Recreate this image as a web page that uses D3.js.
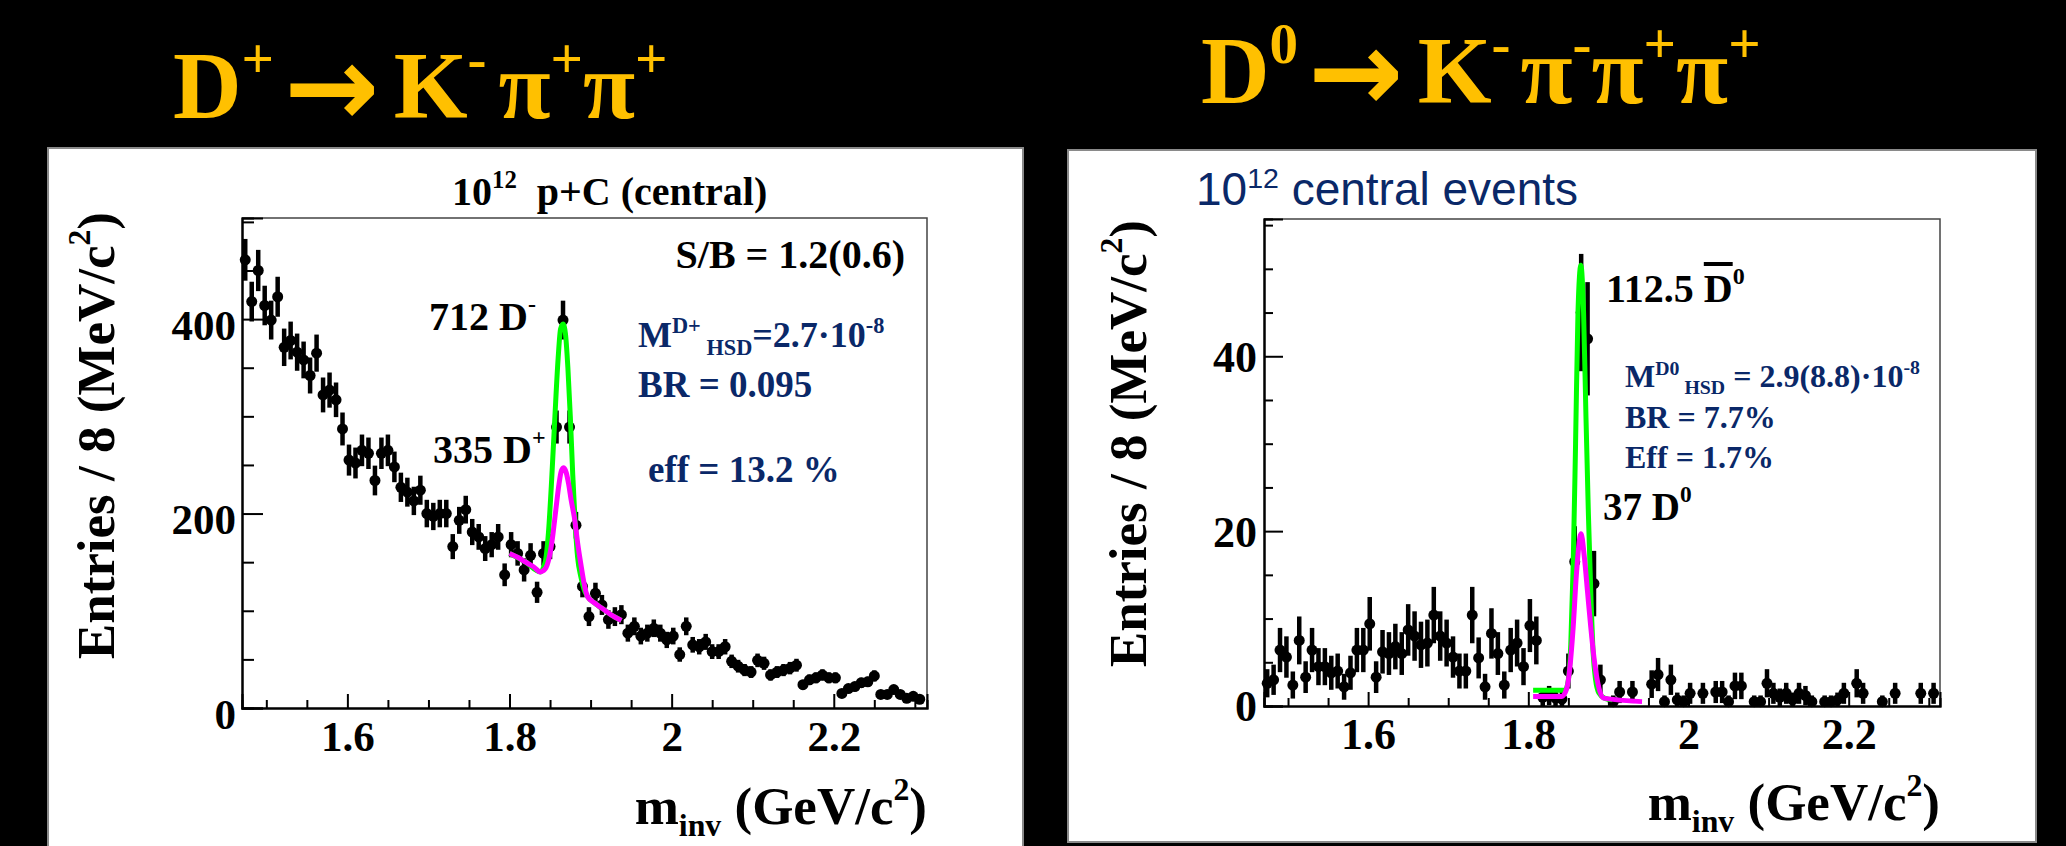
<!DOCTYPE html>
<html>
<head>
<meta charset="utf-8">
<script src="https://cdn.jsdelivr.net/npm/d3@7"></script>
<style>
  body { margin: 0; background: #000; }
  svg { display: block; }
</style>
</head>
<body>
<svg id="chart" width="2066" height="846"></svg>
<script>
// ---- data ----
const binLow = 1.47;      // GeV/c^2, first bin edge
const binWidth = 0.008;   // 8 MeV bins

// D+ -> K- pi+ pi+ : entries per bin
const dplusCounts = [
  461, 418, 450, 414, 399, 423, 371, 378, 366, 358,
  342, 365, 322, 327, 317, 287, 255, 252, 265, 262,
  234, 262, 265, 248, 227, 222, 213, 224, 200, 197,
  200, 200, 166, 193, 204, 181, 176, 164, 168, 176,
  137, 168, 159, 142, 157, 119, 159, 166, 289, 399,
  289, 188, 125, 94, 118, 106, 91, 94, 96, 77,
  84, 74, 77, 82, 77, 70, 74, 55, 84, 65,
  63, 68, 58, 58, 63, 48, 43, 39, 37, 49,
  46, 34, 37, 39, 41, 44, 24, 29, 31, 34,
  31, 31, 15, 20, 22, 26, 27, 33, 14, 14,
  19, 14, 10, 12, 9
];

// D0 -> K- pi- pi+ pi+ : entries per bin
const d0Counts = [
  2.6, 3.0, 6.4, 5.6, 2.4, 7.5, 3.3, 6.4, 4.5, 4.5,
  3.8, 4.0, 2.2, 3.8, 6.4, 6.4, 9.4, 3.3, 6.2, 6.0,
  6.8, 6.0, 8.7, 8.0, 7.0, 7.2, 10.4, 8.0, 7.2, 5.6,
  4.0, 4.0, 10.4, 5.5, 2.2, 8.3, 6.0, 2.4, 6.4, 7.2,
  4.5, 9.2, 7.5, 1.0, 1.2, 0.9, 0.8, 4.0, 16.5, 45,
  42, 14, 3.0, 0, 0.5, 1.6, 0, 1.6, 0, 0,
  2.5, 3.6, 0.5, 3.0, 0.7, 0.5, 1.45, 0, 1.45, 0,
  1.6, 1.6, 0.5, 2.3, 2.3, 0, 0.5, 0.5, 2.6, 1.45,
  1.0, 1.45, 0.7, 1.45, 1.2, 0.5, 0, 0.5, 0.5, 0.7,
  1.45, 0, 2.6, 1.45, 0, 0, 0.5, 0, 1.45, 0,
  0, 0, 1.45, 0, 1.45
];

// fitted curves (mass, entries)
const dplusGreenMass = [1.800, 1.820, 1.838, 1.844, 1.848, 1.852, 1.856, 1.860, 1.863, 1.866, 1.869, 1.872, 1.875, 1.878, 1.881, 1.884, 1.888, 1.892, 1.896, 1.905, 1.915, 1.925, 1.938];
const dplusGreenVal  = [159, 150, 140, 150, 180, 235, 300, 360, 390, 395, 385, 350, 300, 240, 190, 155, 135, 122, 115, 108, 102, 96, 90];
const dplusMagentaMass = [1.800, 1.810, 1.820, 1.830, 1.838, 1.844, 1.849, 1.853, 1.857, 1.861, 1.864, 1.867, 1.870, 1.873, 1.876, 1.880, 1.884, 1.888, 1.892, 1.896, 1.905, 1.915, 1.925, 1.938];
const dplusMagentaVal  = [159, 155, 150, 145, 140, 143, 155, 175, 203, 230, 244, 247, 242, 230, 214, 196, 170, 148, 128, 115, 108, 102, 96, 90];

const d0GreenMass = [1.806, 1.846, 1.850, 1.853, 1.856, 1.859, 1.862, 1.8656, 1.869, 1.872, 1.875, 1.878, 1.881, 1.884, 1.888, 1.895, 1.905];
const d0GreenVal  = [1.8, 1.8, 3, 7, 16, 30, 45, 50.4, 45, 33, 22, 13, 6, 3, 1.5, 0.9, 0.7];
const d0MagentaMass = [1.806, 1.842, 1.848, 1.852, 1.856, 1.860, 1.8659, 1.870, 1.874, 1.878, 1.882, 1.886, 1.894, 1.942];
const d0MagentaVal  = [1.1, 1.1, 2.0, 4.5, 9, 15, 19.7, 17, 13, 9, 5.5, 3, 0.9, 0.5];

// axes
const massRange = [1.47, 2.315];
const massTicks = [1.6, 1.8, 2.0, 2.2];
const massMinor = [1.5, 1.55, 1.65, 1.7, 1.75, 1.85, 1.9, 1.95, 2.05, 2.1, 2.15, 2.25, 2.3];
const dplusYTicks = [0, 200, 400];
const dplusYMinor = [50, 100, 150, 250, 300, 350, 450, 500];
const d0YTicks = [0, 20, 40];
const d0YMinor = [5, 10, 15, 25, 30, 35, 45, 50, 55];

// ---- drawing ----
const SERIF = "'Liberation Serif', 'Times New Roman', serif";
const SANS = "'Liberation Sans', Arial, sans-serif";
const GOLD = "#ffc000";
const NAVY = "#0a2868";

const svg = d3.select("#chart");
svg.append("rect").attr("width", 2066).attr("height", 846).attr("fill", "#000");

// text with super/subscripts; s = vertical shift in em (negative = up), k = size factor
function rich(g, x, y, size, parts, opts = {}) {
  const t = g.append("text")
    .attr("x", x).attr("y", y)
    .attr("font-family", opts.family || SERIF)
    .attr("font-weight", opts.weight || "bold")
    .attr("font-size", size)
    .attr("fill", opts.fill || "#000")
    .attr("text-anchor", opts.anchor || "start")
    .style("white-space", "pre");
  if (opts.transform) t.attr("transform", opts.transform);
  let shift = 0;
  parts.forEach(p => {
    const ts = t.append("tspan").text(p.t);
    if (p.k) ts.attr("font-size", size * p.k);
    if (p.f) ts.attr("font-family", p.f);
    if (p.dx) ts.attr("dx", p.dx);
    const target = (p.s || 0) * size;
    if (target !== shift) ts.attr("dy", target - shift);
    shift = target;
    if (p.o) ts.style("text-decoration", "overline");
  });
  return t;
}

function styleAxis(ax, size, dy) {
  ax.select(".domain").attr("stroke", "#000").attr("stroke-width", 2);
  ax.selectAll(".tick line").attr("stroke", "#000").attr("stroke-width", 2);
  ax.selectAll(".tick text")
    .attr("font-family", SERIF).attr("font-weight", "bold")
    .attr("font-size", size).attr("fill", "#000");
  if (dy) ax.selectAll(".tick text").attr("dy", dy);
}

function drawPanel(p) {
  const g = svg.append("g");
  g.append("rect")
    .attr("x", p.box[0]).attr("y", p.box[1])
    .attr("width", p.box[2]).attr("height", p.box[3])
    .attr("fill", "#fff").attr("stroke", "#8a8a8a").attr("stroke-width", 2);

  const f = p.frame;
  const x = d3.scaleLinear().domain(p.xDomain).range([f.left, f.right]);
  const y = d3.scaleLinear().domain([0, p.yMax]).range([f.bottom, f.top]);

  // frame top / right
  g.append("path")
    .attr("d", `M${f.left},${f.top}H${f.right}V${f.bottom}`)
    .attr("fill", "none").attr("stroke", "#444").attr("stroke-width", 1.5);

  // y axis: minor then major
  const yMin = g.append("g").attr("transform", `translate(${f.left},0)`)
    .call(d3.axisLeft(y).tickValues(p.yMinor).tickSize(-p.yMinorLen).tickFormat(""));
  styleAxis(yMin, p.tickFont);
  const yMaj = g.append("g").attr("transform", `translate(${f.left},0)`)
    .call(d3.axisLeft(y).tickValues(p.yTicks).tickSize(-p.yMajorLen).tickPadding(p.yPad).tickFormat(d3.format("d")));
  styleAxis(yMaj, p.tickFont, p.yLabelDy);

  // x axis
  const xMin = g.append("g").attr("transform", `translate(0,${f.bottom})`)
    .call(d3.axisBottom(x).tickValues(massMinor).tickSize(-8).tickFormat(""));
  styleAxis(xMin, p.tickFont);
  const xMaj = g.append("g").attr("transform", `translate(0,${f.bottom})`)
    .call(d3.axisBottom(x).tickValues(massTicks).tickSize(-14).tickPadding(12).tickFormat(d => String(+d.toFixed(1))));
  styleAxis(xMaj, p.tickFont);

  // data points with error bars
  const pts = p.counts.map((c, i) => ({ m: binLow + binWidth * (i + 0.5), c }))
    .filter(d => d.c > 0);
  const pg = g.append("g").attr("stroke", "#000").attr("stroke-width", 4.5);
  pg.selectAll("line.ev").data(pts).join("line").attr("class", "ev")
    .attr("x1", d => x(d.m)).attr("x2", d => x(d.m))
    .attr("y1", d => y(d.c + Math.sqrt(d.c)))
    .attr("y2", d => y(Math.max(0, d.c - Math.sqrt(d.c))));
  pg.selectAll("line.eh").data(pts).join("line").attr("class", "eh")
    .attr("x1", d => x(d.m - binWidth / 2)).attr("x2", d => x(d.m + binWidth / 2))
    .attr("y1", d => y(d.c)).attr("y2", d => y(d.c));
  g.append("g").selectAll("circle").data(pts).join("circle")
    .attr("cx", d => x(d.m)).attr("cy", d => y(d.c)).attr("r", 5.5).attr("fill", "#000");

  // fit curves
  const line = d3.line().x(d => x(d[0])).y(d => y(d[1])).curve(d3.curveMonotoneX);
  g.append("path").datum(d3.zip(p.greenMass, p.greenVal)).attr("d", line)
    .attr("fill", "none").attr("stroke", "#00ff00").attr("stroke-width", 5);
  g.append("path").datum(d3.zip(p.magentaMass, p.magentaVal)).attr("d", line)
    .attr("fill", "none").attr("stroke", "#ff00ff").attr("stroke-width", 5);

  // axis titles
  rich(g, 0, 0, p.titleFont, [{ t: "Entries / 8 (MeV/c" }, { t: "2", k: 0.6, s: -0.45 }, { t: ")", s: 0 }],
    { anchor: "end", transform: `translate(${p.yTitle[0]},${p.yTitle[1]}) rotate(-90)` });
  rich(g, f.right, p.xTitleY, p.titleFont, [
    { t: "m" }, { t: "inv", k: 0.6, s: 0.22 }, { t: " (GeV/c", s: 0 }, { t: "2", k: 0.6, s: -0.45 }, { t: ")", s: 0 }
  ], { anchor: "end" });

  return g;
}

// ---- left panel: D+ ----
const gL = drawPanel({
  box: [48, 148, 975, 710],
  frame: { left: 242, right: 927, top: 218, bottom: 708 },
  xDomain: massRange, yMax: 504,
  yTicks: dplusYTicks, yMinor: dplusYMinor, yMajorLen: 21, yMinorLen: 12,
  yPad: 6, yLabelDy: "0.47em", tickFont: 43, titleFont: 53,
  counts: dplusCounts,
  greenMass: dplusGreenMass, greenVal: dplusGreenVal,
  magentaMass: dplusMagentaMass, magentaVal: dplusMagentaVal,
  yTitle: [114, 212], xTitleY: 824
});

rich(gL, 452, 205, 40, [{ t: "10" }, { t: "12", k: 0.62, s: -0.42 }, { t: "  p+C (central)", s: 0 }]);
rich(gL, 905, 268, 40, [{ t: "S/B = 1.2(0.6)" }], { anchor: "end" });
rich(gL, 429, 330, 40, [{ t: "712 D" }, { t: "-", k: 0.6, s: -0.45 }]);
rich(gL, 433, 463, 40, [{ t: "335 D" }, { t: "+", k: 0.6, s: -0.45 }]);
rich(gL, 638, 347, 36, [
  { t: "M" }, { t: "D+", k: 0.62, s: -0.38 }, { t: " HSD", k: 0.62, s: 0.22 },
  { t: "=2.7·10", s: 0 }, { t: "-8", k: 0.62, s: -0.4 }
], { fill: NAVY });
rich(gL, 638, 397, 37, [{ t: "BR = 0.095" }], { fill: NAVY });
rich(gL, 648, 482, 37, [{ t: "eff = 13.2 %" }], { fill: NAVY });

// ---- right panel: D0 ----
const gR = drawPanel({
  box: [1068, 150, 968, 692],
  frame: { left: 1264, right: 1940, top: 219, bottom: 706 },
  xDomain: [1.47, 2.314], yMax: 55.7,
  yTicks: d0YTicks, yMinor: d0YMinor, yMajorLen: 19, yMinorLen: 9,
  yPad: 7, yLabelDy: "0.34em", tickFont: 44, titleFont: 53,
  counts: d0Counts,
  greenMass: d0GreenMass, greenVal: d0GreenVal,
  magentaMass: d0MagentaMass, magentaVal: d0MagentaVal,
  yTitle: [1146, 220], xTitleY: 820
});

rich(gR, 1196, 205, 46, [{ t: "10" }, { t: "12", k: 0.62, s: -0.38 }, { t: " central events", s: 0 }],
  { family: SANS, weight: "normal", fill: NAVY });
rich(gR, 1606, 302, 40, [{ t: "112.5 " }, { t: "D", o: true }, { t: "0", k: 0.6, s: -0.45 }]);
rich(gR, 1625, 387, 32, [
  { t: "M" }, { t: "D0", k: 0.62, s: -0.38 }, { t: " HSD", k: 0.62, s: 0.22 },
  { t: " = 2.9(8.8)·10", s: 0 }, { t: "-8", k: 0.62, s: -0.4 }
], { fill: NAVY });
rich(gR, 1625, 428, 32, [{ t: "BR = 7.7%" }], { fill: NAVY });
rich(gR, 1625, 468, 32, [{ t: "Eff = 1.7%" }], { fill: NAVY });
rich(gR, 1603, 520, 39, [{ t: "37 D" }, { t: "0", k: 0.6, s: -0.45 }]);

// ---- decay titles ----
const ARROW = "'DejaVu Sans', sans-serif";
rich(svg, 173, 118, 95, [
  { t: "D" }, { t: "+", k: 0.6, s: -0.42 }, { t: "→", f: ARROW, k: 1.2, s: 0.08, dx: 10 }, { t: "K", s: 0, dx: 14 },
  { t: "-", k: 0.6, s: -0.42 }, { t: "π", s: 0, dx: 12 }, { t: "+", k: 0.6, s: -0.42 },
  { t: "π", s: 0 }, { t: "+", k: 0.6, s: -0.42 }
], { fill: GOLD });
rich(svg, 1201, 103, 95, [
  { t: "D" }, { t: "0", k: 0.6, s: -0.42 }, { t: "→", f: ARROW, k: 1.2, s: 0.08, dx: 10 }, { t: "K", s: 0, dx: 14 },
  { t: "-", k: 0.6, s: -0.42 }, { t: "π", s: 0, dx: 10 }, { t: "-", k: 0.6, s: -0.42 },
  { t: "π", s: 0 }, { t: "+", k: 0.6, s: -0.42 }, { t: "π", s: 0 }, { t: "+", k: 0.6, s: -0.42 }
], { fill: GOLD });
</script>
</body>
</html>
